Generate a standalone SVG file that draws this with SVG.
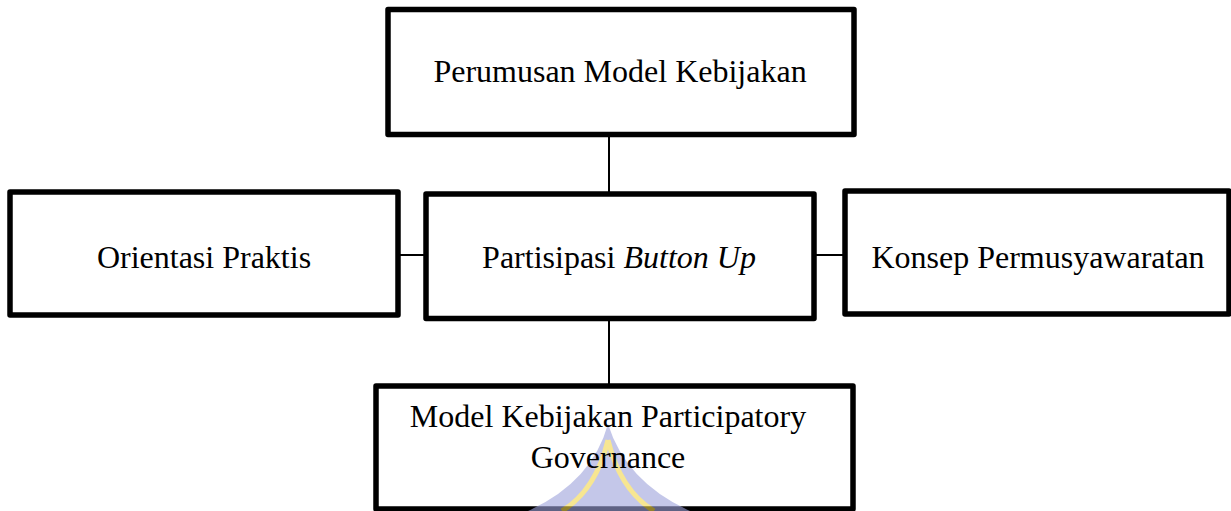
<svg xmlns="http://www.w3.org/2000/svg" width="1231" height="511" viewBox="0 0 1231 511">
<style>
.box{fill:#fff;stroke:#000;stroke-width:5.5;stroke-linejoin:round}
.lbl{font-family:"Liberation Serif","Times New Roman",serif;font-size:32px;fill:#000;text-anchor:middle}
.con{stroke:#000;stroke-width:2;fill:none}
</style>
<rect width="1231" height="511" fill="#fff"/>
<g id="connectors">
<line class="con" x1="609" y1="137" x2="609" y2="192"/>
<line class="con" x1="609" y1="321" x2="609" y2="384"/>
<line class="con" x1="400" y1="255" x2="424" y2="255"/>
<line class="con" x1="816" y1="255" x2="843" y2="255"/>
</g>
<g id="node-top">
<rect class="box" x="388" y="9.5" width="466" height="125"/>
<text class="lbl" x="620" y="82">Perumusan Model Kebijakan</text>
</g>
<g id="node-left">
<rect class="box" x="10" y="192" width="388" height="123"/>
<text class="lbl" x="204" y="268">Orientasi Praktis</text>
</g>
<g id="node-center">
<rect class="box" x="426" y="194" width="388" height="124.5"/>
<text class="lbl" x="619" y="268">Partisipasi <tspan font-style="italic">Button Up</tspan></text>
</g>
<g id="node-right">
<rect class="box" x="845" y="191" width="384" height="123"/>
<text class="lbl" x="1038" y="268">Konsep Permusyawaratan</text>
</g>
<g id="node-bottom">
<rect class="box" x="376" y="386" width="477" height="123"/>
<g id="watermark" opacity="0.6">
<path d="M608,424 Q592,482 528,511 L690,511 Q626,482 608,424 Z" fill="#9ea3dc"/>
<path d="M608,440 Q596,490 562,511 M608,440 Q620,490 654,511" fill="none" stroke="#f2d64a" stroke-width="5"/>
</g>
<text class="lbl" x="608" y="427">Model Kebijakan Participatory</text>
<text class="lbl" x="608" y="468">Governance</text>
</g>
</svg>
